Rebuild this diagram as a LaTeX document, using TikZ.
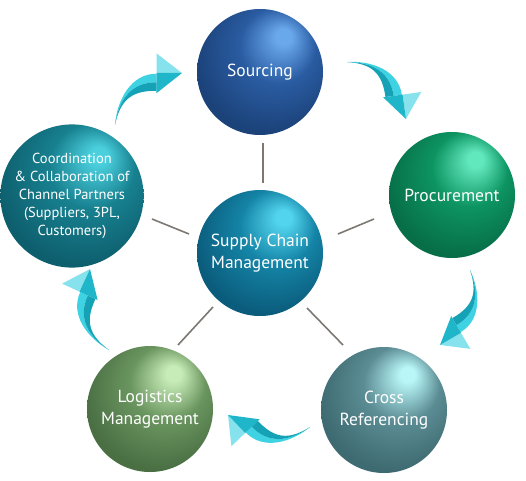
\documentclass[tikz,border=0pt]{standalone}
\usepackage{fontspec}
\setmainfont{PT Sans}
\usetikzlibrary{calc}
\definecolor{srchi}{HTML}{6AA8EC}\definecolor{srcmid}{HTML}{2A5CA2}\definecolor{srcdark}{HTML}{1B4279}
\definecolor{scmhi}{HTML}{52D4EE}\definecolor{scmmid}{HTML}{1484A6}\definecolor{scmdark}{HTML}{0B5C7C}
\definecolor{prohi}{HTML}{62E8BD}\definecolor{promid}{HTML}{0D9462}\definecolor{prodark}{HTML}{076E48}
\definecolor{crohi}{HTML}{B8F6F8}\definecolor{cromid}{HTML}{5C8D94}\definecolor{crodark}{HTML}{3E6A71}
\definecolor{loghi}{HTML}{C8ECB8}\definecolor{logmid}{HTML}{6A955F}\definecolor{logdark}{HTML}{496F43}
\definecolor{coohi}{HTML}{4BCFDD}\definecolor{coomid}{HTML}{17808F}\definecolor{coodark}{HTML}{0E5F6E}
\definecolor{spokegray}{RGB}{125,120,115}
\definecolor{arrowlight}{HTML}{3FD2E2}
\definecolor{arrowdark}{HTML}{15A2B6}
\definecolor{headlight}{HTML}{86E2EC}
\definecolor{headdark}{HTML}{1FB6C9}
\pgfdeclareradialshading{shsrc}{\pgfpoint{10bp}{15bp}}{color(0bp)=(srchi); color(3bp)=(srchi); color(15bp)=(srcmid); color(30bp)=(srcdark); color(50bp)=(srcdark)}
\pgfdeclareradialshading{shscm}{\pgfpoint{10bp}{15bp}}{color(0bp)=(scmhi); color(3bp)=(scmhi); color(15bp)=(scmmid); color(30bp)=(scmdark); color(50bp)=(scmdark)}
\pgfdeclareradialshading{shpro}{\pgfpoint{10bp}{15bp}}{color(0bp)=(prohi); color(3bp)=(prohi); color(15bp)=(promid); color(30bp)=(prodark); color(50bp)=(prodark)}
\pgfdeclareradialshading{shcro}{\pgfpoint{10bp}{15bp}}{color(0bp)=(crohi); color(3bp)=(crohi); color(15bp)=(cromid); color(30bp)=(crodark); color(50bp)=(crodark)}
\pgfdeclareradialshading{shlog}{\pgfpoint{10bp}{15bp}}{color(0bp)=(loghi); color(3bp)=(loghi); color(15bp)=(logmid); color(30bp)=(logdark); color(50bp)=(logdark)}
\pgfdeclareradialshading{shcoo}{\pgfpoint{10bp}{15bp}}{color(0bp)=(coohi); color(3bp)=(coohi); color(15bp)=(coomid); color(30bp)=(coodark); color(50bp)=(coodark)}
\tikzset{
  ball/.style={circle, minimum size=126pt, inner sep=0pt, text=white, align=center, shade,
    font=\fontsize{17.5}{22}\selectfont},
  smallball/.style={ball, font=\fontsize{14.5}{18}\selectfont},
  spoke/.style={draw=spokegray, line width=1.6pt},
  bodylight/.style={fill=arrowlight},
  bodydark/.style={fill=arrowdark},
  facetlight/.style={fill=headlight},
  facetdark/.style={fill=headdark},
}
\newcommand\cyclarrow[2]{%
  \pgfpointdiff{\pgfpointanchor{#1}{center}}{\pgfpointanchor{#2}{center}}%
  \pgfgetlastxy{\adx}{\ady}%
  \pgfmathsetmacro\aang{atan2(\ady,\adx)}%
  \pgfmathsetmacro\alen{veclen(\adx,\ady)}%
  \begin{scope}[shift={(#1)}, rotate=\aang, x=\alen pt, y=\alen pt]
    \path[bodylight] (0,0) .. controls (0.202,0.222) and (0.522,0.362) .. (0.758,0.177) -- (0.696,0.098) .. controls (0.460,0.283) and (0.216,0.208) .. (0,0) -- cycle;
    \path[bodydark] (0,0) .. controls (0.216,0.208) and (0.460,0.283) .. (0.696,0.098) -- (0.634,0.019) .. controls (0.398,0.204) and (0.230,0.194) .. (0,0) -- cycle;
    \path[facetlight] (0.905,0.366) -- (1,0) -- (0.764,0.185) -- cycle;
    \path[facetdark] (0.764,0.185) -- (1,0) -- (0.616,-0.004) -- cycle;
  \end{scope}}
\begin{document}
\begin{tikzpicture}[x=1pt,y=1pt]
\fill[white] (0,0) rectangle (526,480);
\useasboundingbox (0,0) rectangle (526,480);
% balls
\node[ball, shading=shsrc] (src) at (260,408) {Sourcing};
\node[ball, shading=shpro] (pro) at (452,285) {Procurement};
\node[ball, shading=shcro] (cro) at (384,70) {Cross\\Referencing};
\node[ball, shading=shlog] (log) at (150,71) {Logistics\\Management};
\node[smallball, shading=shcoo] (coo) at (72,284) {Coordination\\\& Collaboration of\\Channel Partners\\(Suppliers, 3PL,\\Customers)};
\node[ball, shading=shscm] (scm) at (260,227) {Supply Chain\\Management};
% spokes
\draw[spoke] ($(scm)+(3,70)$) -- ($(src)+(3,-71)$);
\draw[spoke] ($(scm)+(78,19)$) -- ($(pro)+(-78,-24)$);
\draw[spoke] ($(scm)+(47,-55)$) -- ($(cro)+(-41,65)$);
\draw[spoke] ($(scm)+(-47,-54)$) -- ($(log)+(28,64)$);
\draw[spoke] ($(scm)+(-71,19)$) -- ($(coo)+(80,-23)$);
% cycle arrows
\coordinate (a1t) at (347,418); \coordinate (a1h) at (406,361);
\coordinate (a2t) at (470,210); \coordinate (a2h) at (440,135);
\coordinate (a3t) at (310,53);  \coordinate (a3h) at (228,65);
\coordinate (a4t) at (109,130); \coordinate (a4h) at (90,211);
\coordinate (a5t) at (115,355); \coordinate (a5h) at (182,407);
\cyclarrow{a1t}{a1h}
\cyclarrow{a2t}{a2h}
\cyclarrow{a3t}{a3h}
\cyclarrow{a4t}{a4h}
\cyclarrow{a5t}{a5h}
\end{tikzpicture}
\end{document}
